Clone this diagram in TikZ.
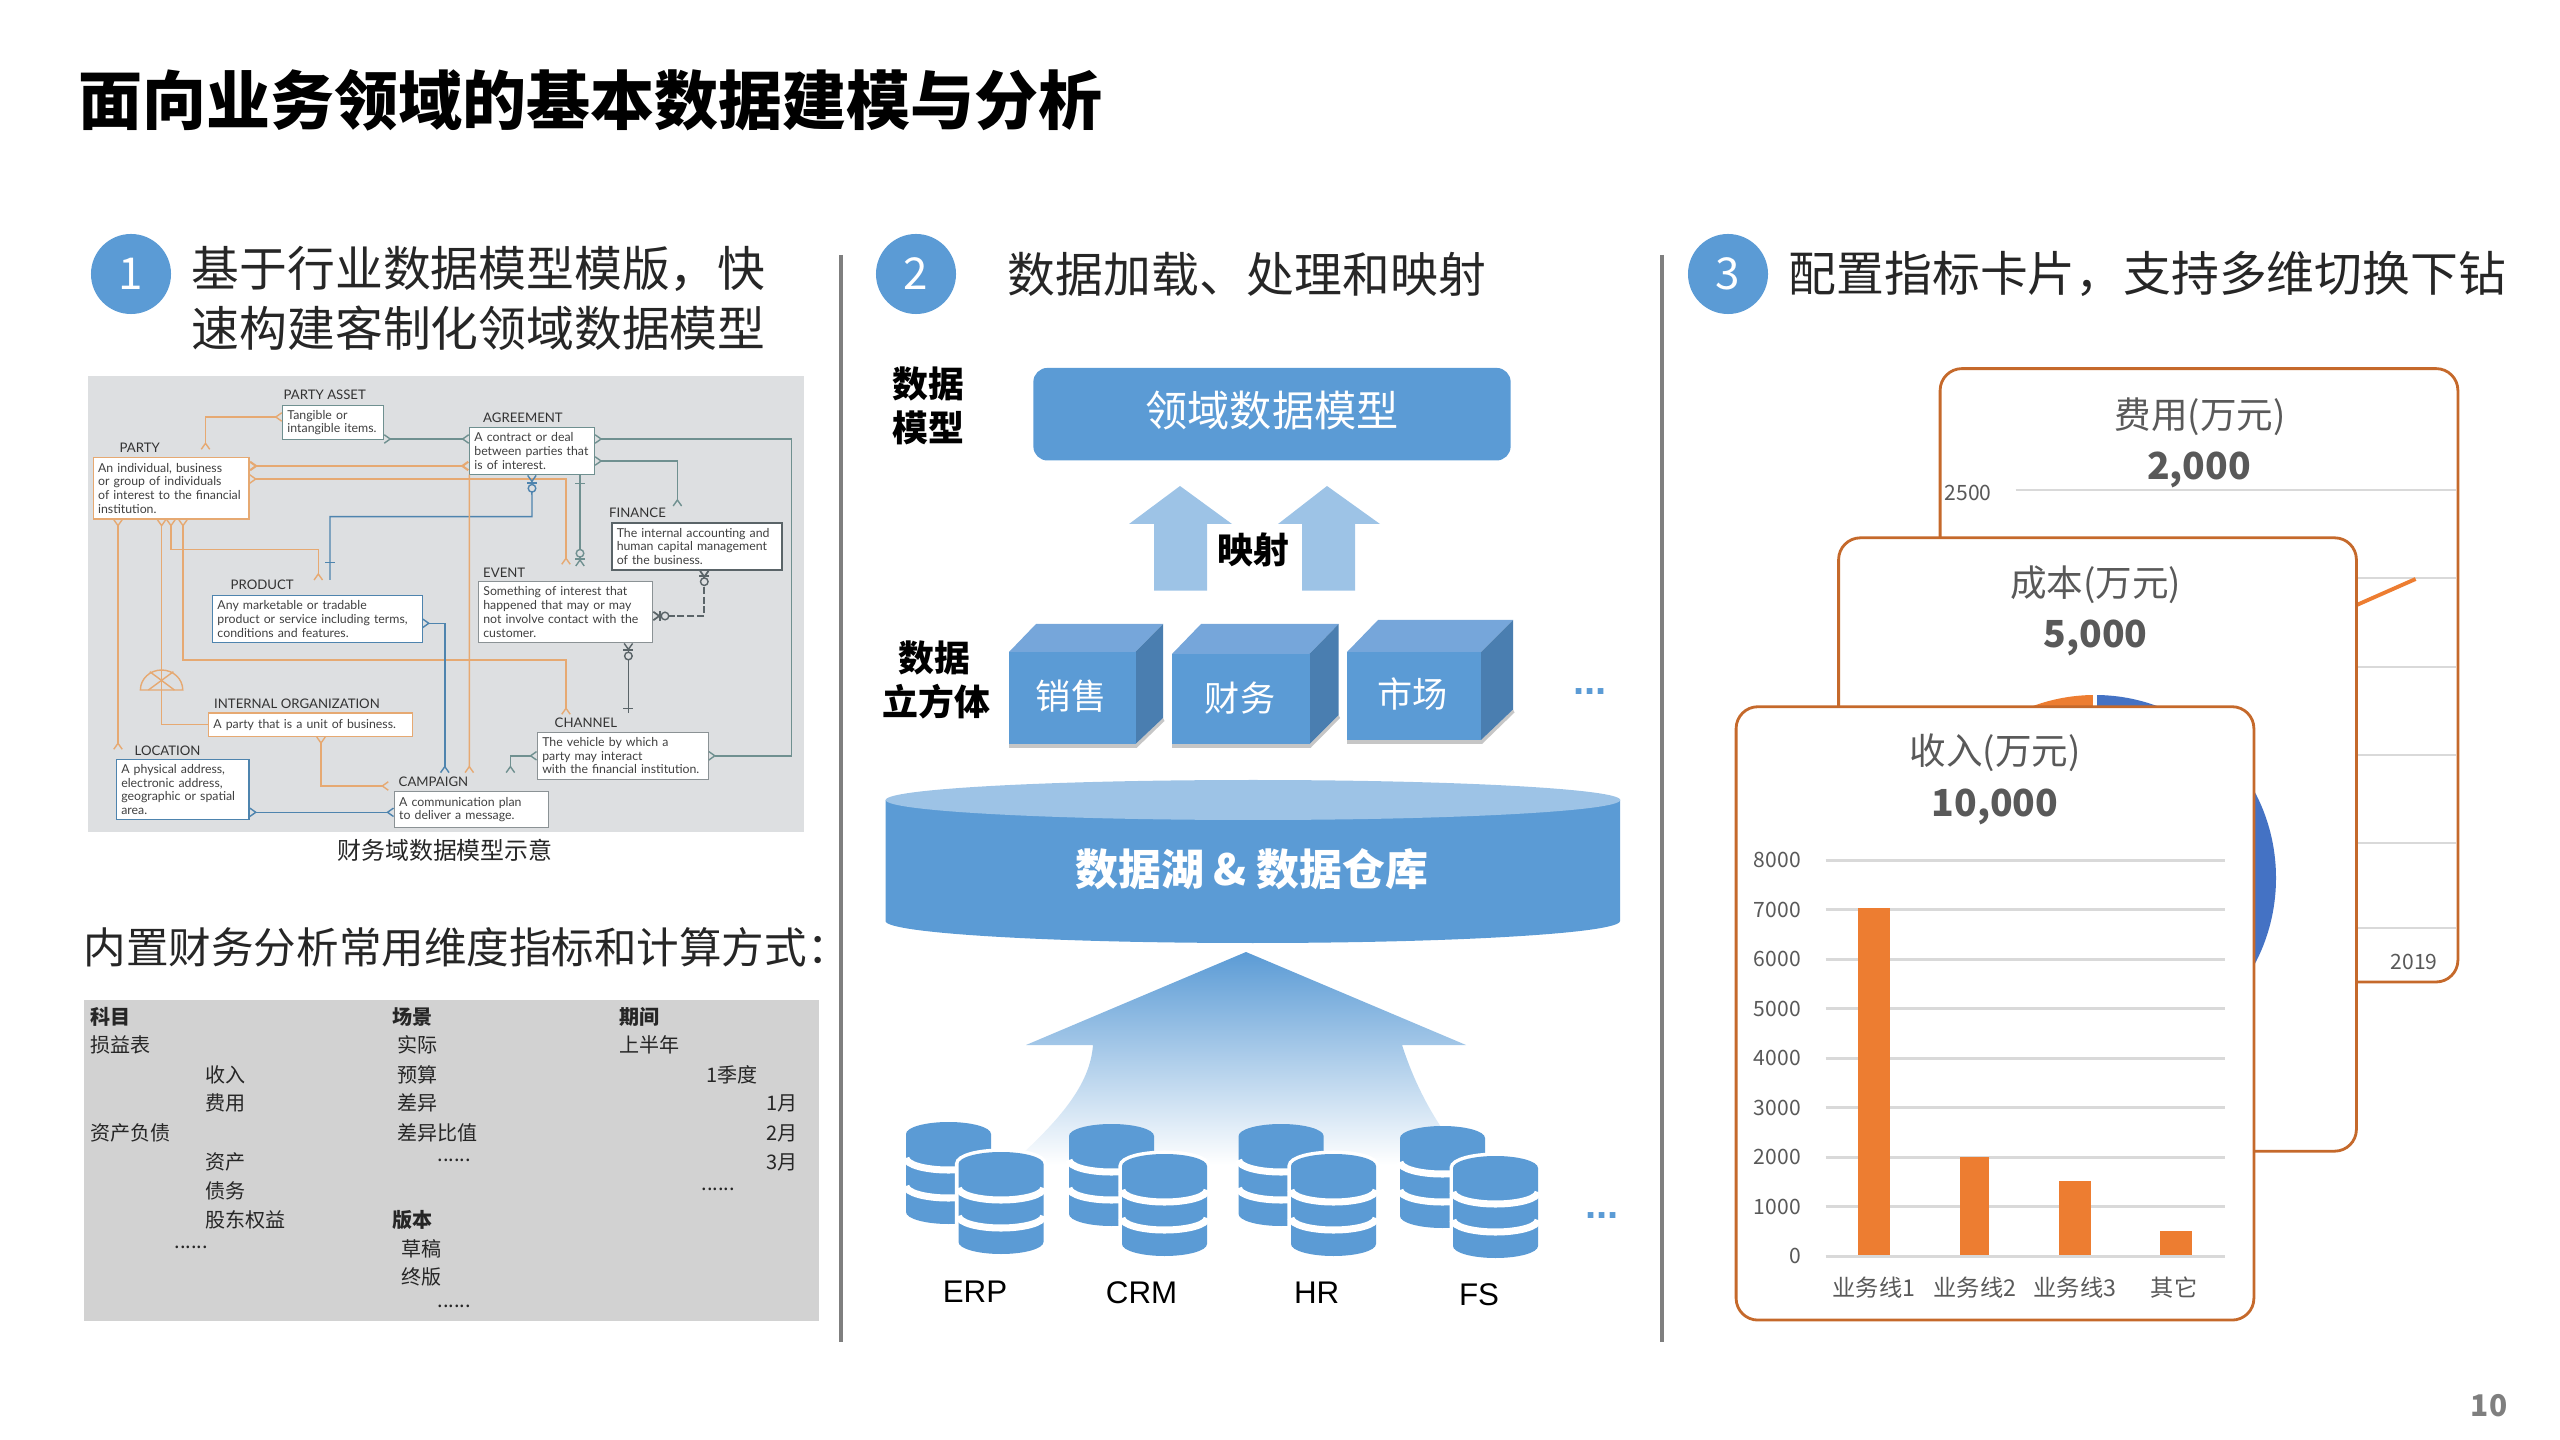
\documentclass[tikz,border=0pt]{standalone}
\usepackage{fontspec}
\setmainfont{Noto Sans CJK SC}
\newfontfamily\erfont{Lato}
\newfontfamily\arialfont{Liberation Sans}
\usetikzlibrary{arrows.meta}

\definecolor{barblue}{HTML}{5B9BD5}
\definecolor{skyblue}{HTML}{9DC3E6}
\definecolor{cubetop}{HTML}{76A6DA}
\definecolor{cubeside}{HTML}{4A7EB0}
\definecolor{cardedge}{HTML}{C5692B}
\definecolor{barorange}{HTML}{ED7D31}
\definecolor{pieblue}{HTML}{4472C4}
\definecolor{gridgrey}{HTML}{D9D9D9}
\definecolor{cardtext}{HTML}{595959}
\definecolor{sepgrey}{HTML}{7F7F7F}
\definecolor{erback}{HTML}{DDDFE1}
\definecolor{tableback}{HTML}{D2D2D2}
\definecolor{erorange}{HTML}{E6A972}
\definecolor{erteal}{HTML}{6F9090}
\definecolor{erblue}{HTML}{4E84AE}
\definecolor{erdark}{HTML}{5A6468}

\newcommand{\dotrow}{......}

\tikzset{
  foot/.tip={Straight Barb[reversed,length=1.7pt,width=2.4pt]},
  headtext/.style={font=\fontsize{13.6}{16}\selectfont, text=black!85, inner sep=0, anchor=west},
  sidetext/.style={font=\bfseries\fontsize{10.2}{12}\selectfont, text=black, inner sep=0},
  numdisc/.style={circle, fill=barblue, text=white, minimum size=0.8cm, inner sep=0, font=\fontsize{12.5}{14}\selectfont},
  moredots/.style={font=\arialfont\bfseries\fontsize{11.4}{13}\selectfont, text=barblue, inner sep=0},
  cubetext/.style={font=\fontsize{10}{12}\selectfont, text=white, inner sep=0},
  srctext/.style={font=\arialfont\fontsize{8.9}{10}\selectfont, text=black, inner sep=0},
  tabletext/.style={font=\fontsize{5.7}{7}\selectfont, text=black!85, inner sep=0, anchor=west},
  tablehead/.style={tabletext, font=\bfseries\fontsize{5.7}{7}\selectfont},
  cardbox/.style={draw=cardedge, fill=white, line width=0.8pt, rounded corners=6.2pt, minimum width=5.175cm, minimum height=6.13cm, inner sep=0},
  cardtitle/.style={font=\fontsize{10.4}{12}\selectfont, text=cardtext, inner sep=0},
  cardvalue/.style={font=\bfseries\fontsize{10.6}{12}\selectfont, text=cardtext, inner sep=0},
  ticktext/.style={font=\fontsize{6}{7}\selectfont, text=cardtext, inner sep=0},
  gridline/.style={draw=gridgrey, line width=0.8pt},
  erbox/.style 2 args={draw, fill=white, line width=0.35pt, inner xsep=0.05cm, inner ysep=0, outer sep=0,
    text width=#1cm-0.10cm, minimum height=#2cm, align=left, font=\erfont\fontsize{3.5}{3.9}\selectfont, text=black!75},
  ername/.style={font=\erfont\fontsize{3.75}{4.4}\selectfont, text=black!80, inner sep=0, anchor=west},
  orlink/.style={draw=erorange, line width=0.4pt},
  teallink/.style={draw=erteal, line width=0.4pt},
  bluelink/.style={draw=erblue, line width=0.4pt},
  darklink/.style={draw=erdark, line width=0.4pt},
}

\newcommand{\dbcyl}[3]{
\begin{scope}[shift={(#1,#2)}]
\path[fill=barblue, preaction={draw=#3, line width=2pt}] (0,12) arc[start angle=180, end angle=360, x radius=42.5, y radius=12] -- (85,90) arc[start angle=0, end angle=180, x radius=42.5, y radius=12] -- cycle;
\draw[white, line width=2pt] (0,36) arc[start angle=180, end angle=0, x radius=42.5, y radius=12];
\draw[white, line width=2pt] (0,64) arc[start angle=180, end angle=0, x radius=42.5, y radius=12];
\end{scope}
}

\begin{document}
\begin{tikzpicture}[x=0.01cm, y=-0.01cm]

\useasboundingbox (0,0) rectangle (2560,1440);

\node[font=\bfseries\fontsize{18.2}{21}\selectfont, text=black, inner sep=0, anchor=west] (pagetitle) at (78,100) {面向业务领域的基本数据建模与分析};

\node[numdisc] (discone) at (131,274) {1};
\node[numdisc] (disctwo) at (916,274) {2};
\node[numdisc] (discthree) at (1728,274) {3};

\node[headtext] (headonea) at (191,269) {基于行业数据模型模版，快};
\node[headtext] (headoneb) at (191,328) {速构建客制化领域数据模型};
\node[headtext] (headtwo) at (1007,274) {数据加载、处理和映射};
\node[headtext] (headthree) at (1788,274) {配置指标卡片，支持多维切换下钻};

\draw[sepgrey, line width=1.2pt] (841,255) -- (841,1342);
\draw[sepgrey, line width=1.2pt] (1662,255) -- (1662,1342);

\fill[erback] (88,376) rectangle (804,832);

\node[erbox={1.01}{0.336}, draw=erteal] (assetbox) at (333,422.5) {Tangible or\\intangible items.};
\node[erbox={1.25}{0.47}, draw=erteal] (agreementbox) at (531.9,451.2) {A contract or deal\\between parties that\\is of interest.};
\node[erbox={1.558}{0.613}, draw=erorange] (partybox) at (171.1,488.3) {An individual, business\\or group of individuals\\of interest to the financial\\institution.};
\node[erbox={1.70}{0.473}, draw=erdark, line width=0.5pt] (financebox) at (696.8,546.3) {The internal accounting and\\human capital management\\of the business.};
\node[erbox={2.095}{0.47}, draw=erblue] (productbox) at (317.3,619.2) {Any marketable or tradable\\product or service including terms,\\conditions and features.};
\node[erbox={1.74}{0.614}, draw=erdark!70] (eventbox) at (565.4,612) {Something of interest that\\happened that may or may\\not involve contact with the\\customer.};
\node[erbox={2.038}{0.233}, draw=erorange] (intorgbox) at (310.3,724.7) {A party that is a unit of business.};
\node[erbox={1.708}{0.47}, draw=erdark!70] (channelbox) at (622.7,755.8) {The vehicle by which a\\party may interact\\with the financial institution.};
\node[erbox={1.327}{0.596}, draw=erblue] (locationbox) at (182.7,789.5) {A physical address,\\electronic address,\\geographic or spatial\\area.};
\node[erbox={1.543}{0.356}, draw=erdark!70] (campaignbox) at (471.4,809.5) {A communication plan\\to deliver a message.};

\node[ername] (assetname) at (283,395) {PARTY ASSET};
\node[ername] (agreementname) at (482.5,417.3) {AGREEMENT};
\node[ername] (partyname) at (119,447.7) {PARTY};
\node[ername] (financename) at (608.5,512.3) {FINANCE};
\node[ername] (productname) at (230,584.7) {PRODUCT};
\node[ername] (eventname) at (482.5,572.3) {EVENT};
\node[ername] (intorgname) at (213.5,703.3) {INTERNAL ORGANIZATION};
\node[ername] (channelname) at (554,723) {CHANNEL};
\node[ername] (locationname) at (134,751) {LOCATION};
\node[ername] (campaignname) at (398,781.3) {CAMPAIGN};

\coordinate (assetend) at (205.5,450);
\coordinate (eventend) at (566,565);
\coordinate (productend) at (330,580);
\coordinate (eventfoot) at (580,566.7);
\coordinate (financeend) at (677.4,506.7);
\coordinate (locationend) at (118,750);
\coordinate (productorend) at (318.3,580.7);
\coordinate (channelorend) at (566,715);
\coordinate (campaignblue) at (444.8,773.3);
\coordinate (campaignor) at (469.3,773.3);
\coordinate (campaignleft) at (389,786);
\coordinate (channelfree) at (510.4,773.3);
\coordinate (channelbar) at (628.4,713.3);

\draw[orlink, foot-foot] (assetbox.west |- 0,417) -| (assetend);
\draw[teallink, foot-foot] (assetbox.east |- 0,439) -- (agreementbox.west |- 0,439);
\draw[orlink, line width=0.6pt, foot-foot] (agreementbox.west |- 0,466) -- (partybox.east |- 0,466);
\draw[orlink, foot-foot] (partybox.east |- 0,479) -| (eventend);
\draw[bluelink, foot-] (agreementbox.south) -- (532,516.7) -| (productend);
\draw[teallink, -foot] (agreementbox.south -| 580,0) -- (eventfoot);
\draw[teallink, foot-foot] (agreementbox.east |- 0,461) -| (financeend);
\draw[teallink, foot-foot] (agreementbox.east |- 0,439) -- (791.6,439) -- (791.6,755.8) -- (channelbox.east);
\draw[orlink, foot-foot] (partybox.south -| 118,0) -- (locationend);
\draw[orlink, foot-] (partybox.south -| 161.6,0) |- (intorgbox.west);
\draw[orlink, foot-foot] (partybox.south -| 171,0) -- (171,549.7) -| (productorend);
\draw[orlink, foot-foot] (partybox.south -| 183,0) -- (183,660) -| (channelorend);
\draw[bluelink, foot-foot] (productbox.east |- 0,623.3) -| (campaignblue);
\draw[orlink, -foot] (agreementbox.south west) -- (campaignor);
\draw[orlink, foot-foot] (intorgbox.south -| 321,0) |- (campaignleft);
\draw[bluelink, foot-foot] (locationbox.east |- 0,812.3) -- (campaignbox.west |- 0,812.3);
\draw[teallink, foot-foot] (channelbox.west) -| (channelfree);
\draw[darklink, foot-] (eventbox.south -| 628.4,0) -- (channelbar);
\draw[darklink, dashed, dash pattern=on 2pt off 0.8pt, line width=0.5pt, foot-foot] (financebox.south -| 704.3,0) |- (eventbox.east |- 0,616);

\draw[bluelink, fill=erback] (532,488.3) circle[radius=3.8];
\draw[bluelink] (527,483) -- (537,483);
\draw[bluelink] (325,562.7) -- (335,562.7);
\draw[teallink] (575,483.3) -- (585,483.3);
\draw[teallink, fill=erback] (580,553.3) circle[radius=3.8];
\draw[teallink] (575,559) -- (585,559);
\draw[darklink] (623.4,708.3) -- (633.4,708.3);
\draw[darklink, fill=erback] (628.4,656) circle[radius=3.8];
\draw[darklink] (623.4,650) -- (633.4,650);
\draw[darklink, fill=erback] (704.3,581.7) circle[radius=3.8];
\draw[darklink] (699.3,576) -- (709.3,576);
\draw[darklink, fill=erback] (665,616) circle[radius=3.8];
\draw[darklink] (660,611) -- (660,621);

\draw[orlink] (140.4,690) arc[start angle=180, end angle=360, x radius=21.2, y radius=20] -- cycle;
\draw[orlink] (149.8,671.7) -- (174.4,690);
\draw[orlink] (173.4,671.7) -- (148.4,690);

\node[font=\fontsize{6.8}{8}\selectfont, text=black!85, inner sep=0] (ercaption) at (445,850) {财务域数据模型示意};

\node[font=\fontsize{12.1}{14}\selectfont, text=black!85, inner sep=0, anchor=west] (tableheading) at (83,947) {内置财务分析常用维度指标和计算方式：};

\fill[tableback] (84,1000) rectangle (819,1321);

\node[tablehead] (tablesubject) at (90,1017) {科目};
\node[tablehead] (tablescene) at (392,1017) {场景};
\node[tablehead] (tableperiod) at (619,1017) {期间};
\node[tablehead] (tableversion) at (392,1220) {版本};

\foreach \cx/\cy/\ct [count=\ci] in {90/1045/损益表, 205/1075/收入, 205/1103/费用, 90/1133/资产负债, 205/1162/资产, 205/1191/债务, 205/1220/股东权益, 174/1247/\dotrow,
  397/1045/实际, 397/1075/预算, 397/1103/差异, 397/1133/差异比值, 437/1160/\dotrow, 401/1249/草稿, 401/1277/终版, 437/1306/\dotrow,
  619/1045/上半年, 706/1075/1季度, 766/1103/1月, 766/1133/2月, 766/1162/3月, 701/1189/\dotrow}
  \node[tabletext] (tablecell\ci) at (\cx,\cy) {\ct};

\node[sidetext] (modelsidea) at (928,383.5) {数据};
\node[sidetext] (modelsideb) at (928,428) {模型};
\node[sidetext] (cubesidea) at (934.5,658) {数据};
\node[sidetext] (cubesideb) at (936.5,702) {立方体};

\node[fill=barblue, rounded corners=4pt, minimum width=4.77cm, minimum height=0.925cm, inner sep=0] (modelbox) at (1272,414.2) {};
\node[text=white, inner sep=0, font=\fontsize{12}{14}\selectfont] (modelname) at (1272,411) {领域数据模型};

\fill[skyblue] (1180,486) -- (1232,524) -- (1207,524) -- (1207,590.6) -- (1154,590.6) -- (1154,524) -- (1129,524) -- cycle;
\fill[skyblue] (1327,486) -- (1380,524) -- (1355,524) -- (1355,590.6) -- (1302,590.6) -- (1302,524) -- (1278,524) -- cycle;

\node[sidetext] (mapname) at (1253,549.5) {映射};

\foreach \fl/\fr/\bl/\br/\ft/\fb/\bt/\bb in {1009/1135.5/1036/1163/652/744/624/718, 1172/1309.5/1201/1338.6/654/744/624/715, 1347/1481/1378/1513/652/740/620/709.5}{
  \fill[gray!45] (\fl,\fb) -- (\fr,\fb) -- (\br,\bb) -- (\br+1.5,\bb+3) -- (\fr+1,\fb+4) -- (\fl,\fb+4) -- cycle;
  \fill[cubetop] (\fl,\ft) -- (\bl,\bt) -- (\br,\bt) -- (\fr,\ft) -- cycle;
  \fill[cubeside] (\fr,\ft) -- (\br,\bt) -- (\br,\bb) -- (\fr,\fb) -- cycle;
  \fill[barblue] (\fl,\ft) rectangle (\fr,\fb);
}

\node[cubetext] (salescube) at (1071,696) {销售};
\node[cubetext] (financecube) at (1240,698) {财务};
\node[cubetext] (marketcube) at (1412.5,694) {市场};

\node[moredots, anchor=center] (cubedots) at (1590,692) {...};

\fill[barblue] (885.5,800) -- (885.5,921) arc[start angle=180, end angle=0, x radius=367.25, y radius=22] -- (1620,800) -- cycle;
\fill[skyblue] (1253,800) ellipse[x radius=367.25, y radius=20];

\node[font=\bfseries\fontsize{12.2}{14}\selectfont, text=white, inner sep=0] (lakename) at (1252,869) {数据湖 \& 数据仓库};

\shade[top color=barblue, bottom color=white] (1246,952) -- (1466,1045) -- (1402,1045) .. controls (1415,1085) and (1435,1125) .. (1470,1165) -- (1010,1165) .. controls (1060,1120) and (1090,1085) .. (1093,1045) -- (1026,1045) -- cycle;

\dbcyl{906}{1122}{none}
\dbcyl{958.5}{1152}{white}
\dbcyl{1069}{1124}{none}
\dbcyl{1122}{1154}{white}
\dbcyl{1238.6}{1124}{none}
\dbcyl{1291}{1154}{white}
\dbcyl{1400}{1126}{none}
\dbcyl{1453}{1156}{white}

\node[srctext] (erpname) at (975,1292) {ERP};
\node[srctext] (crmname) at (1141.6,1293) {CRM};
\node[srctext] (hrname) at (1316.6,1293) {HR};
\node[srctext] (fsname) at (1479,1295) {FS};

\node[moredots, anchor=center] (srcdots) at (1602,1216) {...};

\node[cardbox] (feecard) at (2199,675.3) {};

\foreach \gy in {490,578,667,755,843,928}
  \draw[gridline] (2015.7,\gy) -- (2456,\gy);

\draw[barorange, line width=1.1pt] (2300,630) -- (2415.6,579);

\node[cardtitle] (feetitle) at (2200,417) {费用(万元)};
\node[cardvalue] (feevalue) at (2199,470) {2,000};
\node[ticktext] (feetick) at (1968,492.7) {2500};
\node[ticktext] (feeyear) at (2414,962.4) {2019};

\node[cardbox] (costcard) at (2097.5,844.5) {};

\fill[pieblue] (2095,878) -- (2095,695) arc[start angle=270, end angle=450, x radius=181, y radius=183] -- cycle;
\fill[barorange] (2095,878) -- (2095,695) arc[start angle=270, end angle=90, x radius=181, y radius=183] -- cycle;
\draw[white, line width=1.2pt] (2095,690) -- (2095,712);

\node[cardtitle] (costtitle) at (2095.7,585) {成本(万元)};
\node[cardvalue] (costvalue) at (2095.7,638) {5,000};

\node[cardbox] (revenuecard) at (1995,1013.4) {};

\foreach \gv [count=\gi] in {8000,7000,6000,5000,4000,3000,2000,1000,0}{
  \draw[gridline] (1825.7,{860.4+(\gi-1)*49.5}) -- (2225,{860.4+(\gi-1)*49.5});
  \node[ticktext, anchor=east] (revtick\gi) at (1801.4,{860.4+(\gi-1)*49.5}) {\gv};
}

\fill[barorange] (1858,908) rectangle (1890,1255);
\fill[barorange] (1960,1157) rectangle (1989,1255);
\fill[barorange] (2059,1181) rectangle (2091,1255);
\fill[barorange] (2160,1231) rectangle (2192,1255);

\node[cardtitle] (revenuetitle) at (1995,753) {收入(万元)};
\node[cardvalue] (revenuevalue) at (1995,807) {10,000};

\node[ticktext, font=\fontsize{6.6}{8}\selectfont] (lineone) at (1874,1288) {业务线1};
\node[ticktext, font=\fontsize{6.6}{8}\selectfont] (linetwo) at (1975,1288) {业务线2};
\node[ticktext, font=\fontsize{6.6}{8}\selectfont] (linethree) at (2075,1288) {业务线3};
\node[ticktext, font=\fontsize{6.6}{8}\selectfont] (lineother) at (2174,1288) {其它};

\node[font=\bfseries\fontsize{8.5}{10}\selectfont, text=sepgrey, inner sep=0] (pagenum) at (2489,1406) {10};

\end{tikzpicture}
\end{document}
